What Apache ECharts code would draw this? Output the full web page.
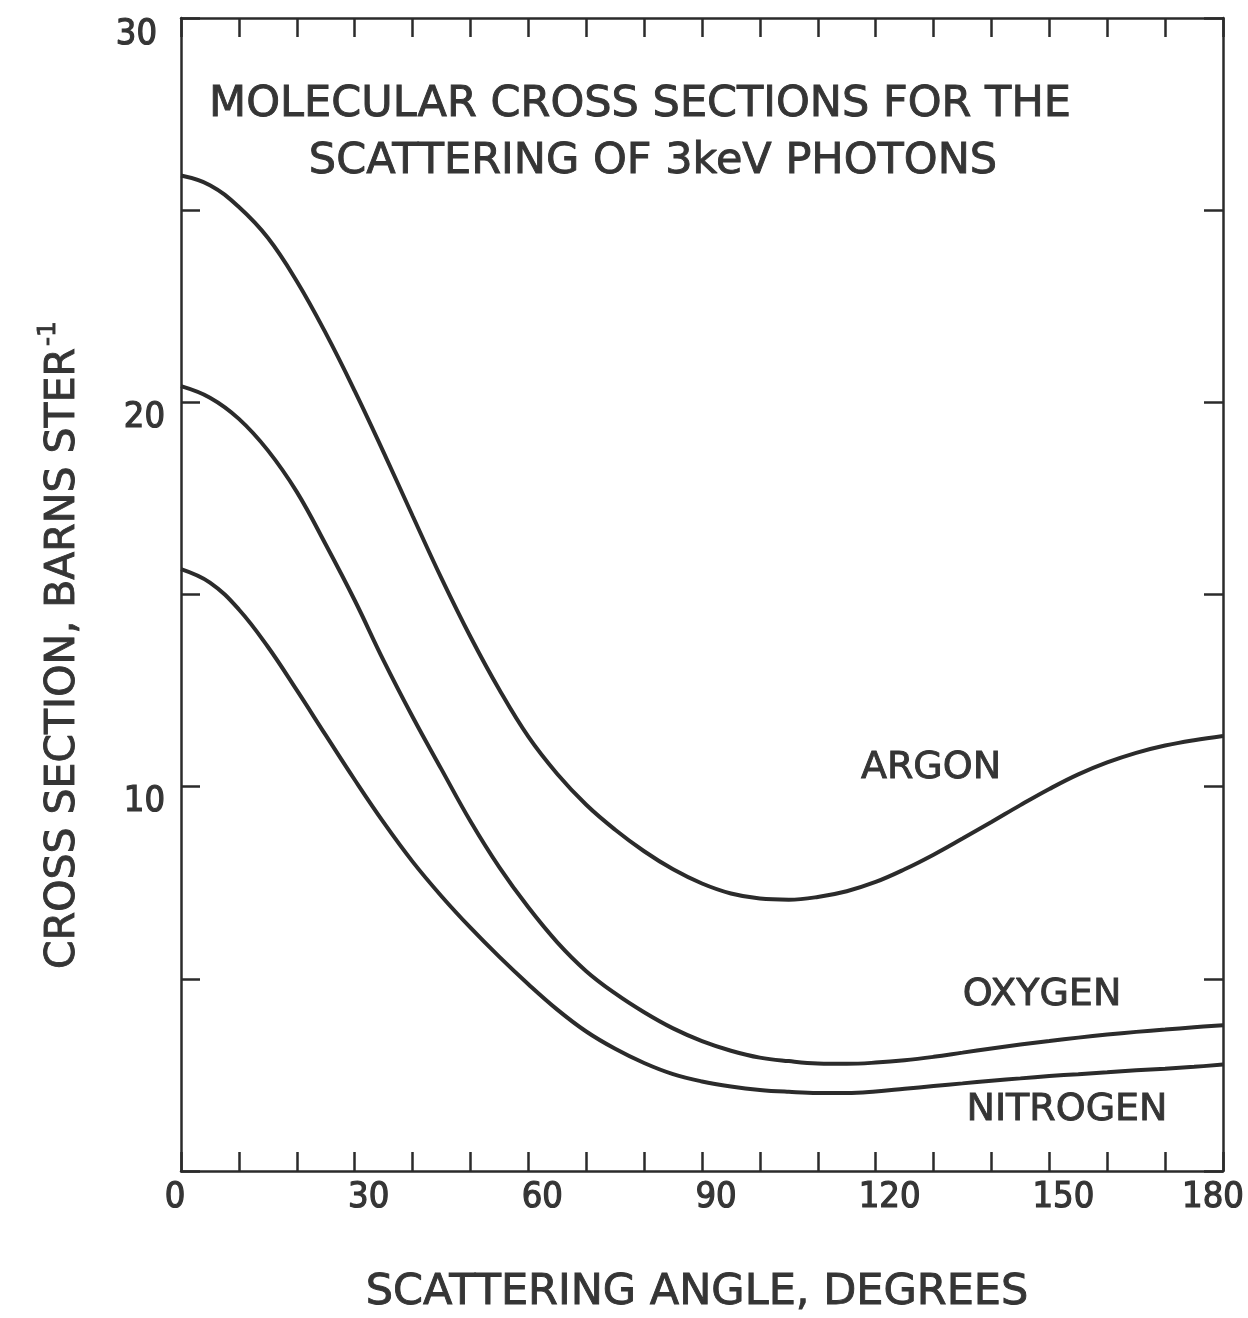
<!DOCTYPE html>
<html>
<head>
<meta charset="utf-8">
<script src="https://cdn.jsdelivr.net/npm/echarts@6/dist/echarts.min.js"></script>
<style>
  html, body { margin: 0; padding: 0; background: #ffffff; }
  #chart { width: 1248px; height: 1318px; }
</style>
</head>
<body>
<div id="chart"></div>
<script>
// ---- data ----
const angles = [0,5,10,15,20,25,30,35,40,45,50,55,60,65,70,75,80,85,90,95,100,105,110,115,120,125,130,135,140,145,150,155,160,165,170,175,180];
const argon = [25.9,25.65,25.08,24.28,23.15,21.8,20.3,18.7,17.05,15.42,13.9,12.52,11.3,10.33,9.53,8.88,8.32,7.85,7.48,7.22,7.09,7.06,7.13,7.28,7.52,7.85,8.23,8.65,9.08,9.52,9.94,10.32,10.63,10.88,11.07,11.21,11.32];
const oxygen = [20.42,20.12,19.57,18.75,17.67,16.3,14.85,13.28,11.82,10.45,9.1,7.9,6.86,5.95,5.2,4.62,4.13,3.71,3.38,3.13,2.95,2.86,2.8,2.79,2.82,2.88,2.97,3.08,3.19,3.29,3.38,3.47,3.55,3.62,3.68,3.74,3.79];
const nitrogen = [15.66,15.31,14.61,13.64,12.51,11.34,10.18,9.07,8.05,7.15,6.33,5.57,4.86,4.2,3.63,3.18,2.81,2.52,2.33,2.2,2.11,2.06,2.03,2.03,2.07,2.14,2.21,2.28,2.35,2.41,2.47,2.52,2.57,2.62,2.66,2.71,2.77];
const xTickLabels = [0,30,60,90,120,150,180];
const yTickLabels = [10,20,30];
const seriesNames = ['ARGON','OXYGEN','NITROGEN'];
const titleLines = ['MOLECULAR CROSS SECTIONS FOR THE','SCATTERING OF 3keV PHOTONS'];
const xAxisTitle = 'SCATTERING ANGLE, DEGREES';
const yAxisTitle = 'CROSS SECTION, BARNS STER';
const yAxisTitleSup = '-1';

// ---- style ----
const ink = '#2b2b2b';
const textInk = '#353535';
const numFont = "'DejaVu Sans Condensed', 'DejaVu Sans', sans-serif";
const txtFont = "'DejaVu Sans', sans-serif";

const axisLine = { show: true, onZero: false, lineStyle: { color: ink, width: 2.5 } };
const axisTick = { show: true, inside: true, length: 19, lineStyle: { color: ink, width: 2.5 } };

const numStyle = { fontSize: 36, fontFamily: numFont, color: textInk, textBorderColor: textInk, textBorderWidth: 1.2 };
function withPad(p) { return Object.assign({}, numStyle, { padding: p }); }

function mkSeries(name, vals) {
  return {
    name: name, type: 'line', xAxisIndex: 0, yAxisIndex: 0,
    data: angles.map((a, i) => [a, vals[i]]),
    smooth: 0.4, showSymbol: false, symbol: 'none',
    lineStyle: { color: ink, width: 4 }
  };
}

function txt(text, x, y, size) {
  return { type: 'text', x: x, y: y,
    style: { text: text, fill: textInk, font: size + 'px ' + txtFont, align: 'center', verticalAlign: 'middle',
      stroke: textInk, lineWidth: 0.9 } };
}

const chart = echarts.init(document.getElementById('chart'), null, { renderer: 'canvas' });
chart.setOption({
  backgroundColor: '#ffffff',
  animation: false,
  grid: { left: 181, top: 18, width: 1042, height: 1153, containLabel: false, outerBoundsMode: 'none' },
  xAxis: [
    { type: 'value', min: 0, max: 180, interval: 10, position: 'bottom',
      axisLine: axisLine, axisTick: axisTick, splitLine: { show: false },
      axisLabel: Object.assign({ margin: 9,
        formatter: v => {
          if (xTickLabels.indexOf(v) < 0) return '';
          const k = v === xTickLabels[0] ? 's' : (v === xTickLabels[xTickLabels.length - 1] ? 'e' : 'm');
          return '{' + k + '|' + v + '}';
        },
        rich: { s: withPad([0, 12, 0, 0]), m: withPad([0, 0, 0, 28]), e: withPad([0, 20, 0, 0]) } }, numStyle) },
    { type: 'value', min: 0, max: 180, interval: 10, position: 'top',
      axisLine: axisLine, axisTick: axisTick, splitLine: { show: false },
      axisLabel: { show: false } }
  ],
  yAxis: [
    { type: 'value', min: 0, max: 30, interval: 5, position: 'left',
      axisLine: axisLine, axisTick: axisTick, splitLine: { show: false },
      axisLabel: Object.assign({ margin: 16,
        formatter: v => {
          if (yTickLabels.indexOf(v) < 0) return '';
          return (v === yTickLabels[yTickLabels.length - 1] ? '{t|' : '{y|') + v + '}';
        },
        rich: { y: withPad([30, 0, 0, 0]), t: withPad([34, 8, 0, 0]) } }, numStyle) },
    { type: 'value', min: 0, max: 30, interval: 5, position: 'right',
      axisLine: axisLine, axisTick: axisTick, splitLine: { show: false },
      axisLabel: { show: false } }
  ],
  series: [
    mkSeries(seriesNames[0], argon),
    mkSeries(seriesNames[1], oxygen),
    mkSeries(seriesNames[2], nitrogen)
  ],
  graphic: [
    txt(titleLines[0], 640, 105, 43),
    txt(titleLines[1], 653, 162, 43),
    txt(xAxisTitle, 697, 1293, 43),
    txt(seriesNames[0], 931, 768, 38),
    txt(seriesNames[1], 1042, 995, 38),
    txt(seriesNames[2], 1067, 1110, 38),
    { type: 'text', x: 60, y: 645, rotation: Math.PI / 2,
      style: { text: '{a|' + yAxisTitle + '}{b|' + yAxisTitleSup + '}', fill: textInk, align: 'center', verticalAlign: 'middle',
        rich: {
          a: { font: '41px ' + txtFont, fill: textInk, stroke: textInk, lineWidth: 0.9, lineHeight: 48, verticalAlign: 'bottom' },
          b: { font: '25px ' + txtFont, fill: textInk, stroke: textInk, lineWidth: 0.9, lineHeight: 48, verticalAlign: 'top', padding: [0, 0, 0, 2] }
        } } }
  ]
});
</script>
</body>
</html>
